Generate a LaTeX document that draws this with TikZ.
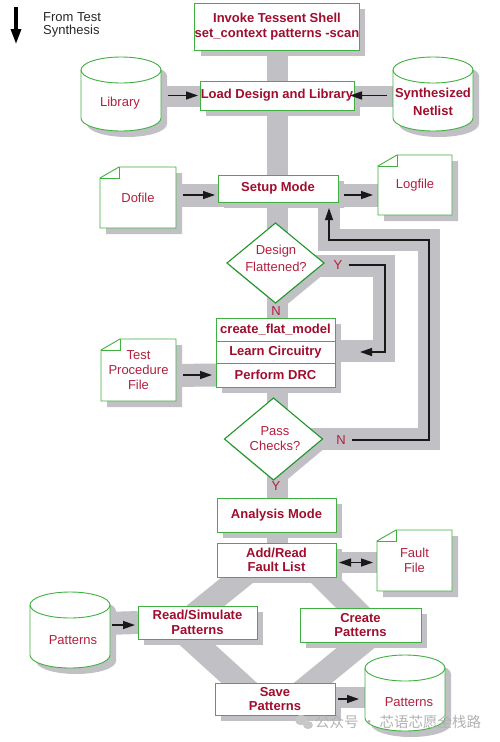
\documentclass[tikz,border=0pt]{standalone}
\usepackage{fontspec}
\setmainfont{Liberation Sans}
\newfontfamily\cjkfont{Noto Sans CJK SC}
\usetikzlibrary{arrows.meta,calc,shadows}
\definecolor{bandgray}{RGB}{192,192,197}
\definecolor{boxgreen}{RGB}{64,176,64}
\definecolor{diagreen}{RGB}{30,150,40}
\definecolor{boldred}{RGB}{160,14,46}
\definecolor{textred}{RGB}{178,32,62}
\definecolor{arrowblack}{RGB}{25,25,25}
\pgfdeclarelayer{bands}
\pgfdeclarelayer{shapes}
\pgfsetlayers{bands,shapes,main}
\tikzset{
  band/.style={draw=bandgray, line width=#1},
  band/.default=22pt,
  procbox/.style={draw=boxgreen, line width=0.9pt, fill=white, inner sep=0pt, outer sep=0pt,
    align=center, text=boldred, font=\fontsize{13}{14.5}\selectfont\bfseries,
    drop shadow={shadow xshift=6pt, shadow yshift=-6pt, fill=bandgray, opacity=1}},
  holder/.style={draw=none, inner sep=0pt, outer sep=0pt, align=center, text=textred,
    font=\fontsize{13}{15}\selectfont},
  lab/.style={inner sep=1pt, text=textred, font=\fontsize{13}{15}\selectfont},
  arr/.style={draw=arrowblack, line width=1.3pt, -{Triangle[length=12pt,width=8pt]}},
  bothtip/.style={draw=arrowblack, line width=1.3pt, {Triangle[length=12pt,width=8pt]}-{Triangle[length=12pt,width=8pt]}},
}
\newcommand\docframe[1]{%
  \begin{pgfonlayer}{bands}
    \fill[bandgray] ($(#1.north west)+(6,17)$) -- ($(#1.north west)+(25,6)$) -- ($(#1.north east)+(6,6)$) -- ($(#1.south east)+(6,6)$) -- ($(#1.south west)+(6,6)$) -- cycle;
  \end{pgfonlayer}
  \begin{pgfonlayer}{shapes}
    \filldraw[fill=white, draw=boxgreen, line width=0.9pt] ($(#1.north west)+(0,11)$) -- ($(#1.north west)+(19,0)$) -- (#1.north east) -- (#1.south east) -- (#1.south west) -- cycle;
    \draw[boxgreen, line width=0.9pt] ($(#1.north west)+(0,11)$) -- ($(#1.north west)+(19,11)$) -- ($(#1.north west)+(19,0)$);
  \end{pgfonlayer}}
\newcommand\cylframe[1]{%
  \begin{pgfonlayer}{bands}
    \fill[bandgray] ($(#1.north west)+(6,19)$) -- ($(#1.south west)+(6,-7)$) arc[start angle=180, end angle=360, x radius=40pt, y radius=13pt] -- ($(#1.north east)+(6,19)$) arc[start angle=0, end angle=180, x radius=40pt, y radius=13pt] -- cycle;
  \end{pgfonlayer}
  \begin{pgfonlayer}{shapes}
    \filldraw[fill=white, draw=boxgreen, line width=0.9pt] ($(#1.north west)+(0,13)$) -- ($(#1.south west)+(0,-13)$) arc[start angle=180, end angle=360, x radius=40pt, y radius=13pt] -- ($(#1.north east)+(0,13)$) arc[start angle=0, end angle=180, x radius=40pt, y radius=13pt] -- cycle;
    \draw[boxgreen, line width=0.9pt] ($(#1.north west)+(0,13)$) arc[start angle=180, end angle=360, x radius=40pt, y radius=13pt];
  \end{pgfonlayer}}
\newcommand\diaframe[1]{%
  \begin{pgfonlayer}{bands}
    \fill[bandgray] ($(#1.north)+(6,6)$) -- ($(#1.east)+(6,6)$) -- ($(#1.south)+(6,6)$) -- ($(#1.west)+(6,6)$) -- cycle;
  \end{pgfonlayer}
  \begin{pgfonlayer}{shapes}
    \filldraw[fill=white, draw=diagreen, line width=1.1pt] (#1.north) -- (#1.east) -- (#1.south) -- (#1.west) -- cycle;
  \end{pgfonlayer}}
\begin{document}
\begin{tikzpicture}[x=1pt, y=-1pt]
\useasboundingbox (0,0) rectangle (499,742);

% from test synthesis
\coordinate (fromtop) at (16,7);
\coordinate (frombot) at (16,44);
\draw[draw=black, line width=3.2pt, -{Triangle[length=15pt,width=10pt]}] (fromtop) -- (frombot);
\node[anchor=west, align=left, inner sep=0pt, text=black!85, font=\fontsize{13}{13}\selectfont] (fromtxt) at (43,24.5) {From Test\\Synthesis};

% process boxes
\node[procbox, minimum width=158pt, minimum height=47pt] (invoke) at (277,26.5) {Invoke Tessent Shell\\set\_context patterns -scan};
\node[procbox, minimum width=154pt, minimum height=29pt] (load) at (277,95.5) {Load Design and Library};
\node[procbox, minimum width=120pt, minimum height=27pt] (setup) at (278,188.5) {Setup Mode};
\node[procbox, minimum width=119pt, minimum height=23pt] (cfm) at (275.5,329.5) {create\_flat\_model};
\node[procbox, minimum width=119pt, minimum height=22pt] (learn) at (275.5,352) {Learn Circuitry};
\node[procbox, minimum width=119pt, minimum height=24pt] (drc) at (275.5,375) {Perform DRC};
\node[procbox, minimum width=119pt, minimum height=34pt] (analysis) at (276.5,515) {Analysis Mode};
\node[procbox, minimum width=119pt, minimum height=34pt] (addread) at (276.5,560) {Add/Read\\Fault List};
\node[procbox, minimum width=119pt, minimum height=33pt] (readsim) at (197.5,622.5) {Read/Simulate\\Patterns};
\node[procbox, minimum width=121pt, minimum height=34pt] (create) at (360.5,625) {Create\\Patterns};
\node[procbox, minimum width=120pt, minimum height=32pt] (save) at (275,699) {Save\\Patterns};

% cylinders
\node[holder, minimum width=80pt, minimum height=74pt] (lib) at (121,94) {};
\node[holder, minimum width=80pt, minimum height=74pt] (netlist) at (433,94) {};
\node[holder, minimum width=80pt, minimum height=76pt] (patl) at (70,630) {};
\node[holder, minimum width=80pt, minimum height=76pt] (patr) at (405,693) {};
\cylframe{lib}
\cylframe{netlist}
\cylframe{patl}
\cylframe{patr}
\node[lab] (libtxt) at (120,103) {Library};
\node[lab, text=boldred, align=center, font=\fontsize{13}{18}\selectfont\bfseries] (nettxt) at (433,102) {Synthesized\\Netlist};
\node[lab] (patltxt) at (73,640) {Patterns};
\node[lab] (patrtxt) at (409,702) {Patterns};

% documents
\node[holder, minimum width=76pt, minimum height=61pt] (dofile) at (138,197.5) {Dofile};
\node[holder, minimum width=74pt, minimum height=60pt] (logfile) at (415,185) {Logfile};
\node[holder, minimum width=75pt, minimum height=62pt] (tpf) at (138.5,370) {Test\\Procedure\\File};
\node[holder, minimum width=75pt, minimum height=61pt] (fault) at (414.5,560.5) {Fault\\File};
\docframe{dofile}
\docframe{logfile}
\docframe{tpf}
\docframe{fault}

% decisions
\node[holder, minimum width=97pt, minimum height=80pt] (flat) at (275.5,263) {};
\node[holder, minimum width=98pt, minimum height=82pt] (pass) at (273.5,439) {};
\diaframe{flat}
\diaframe{pass}
\node[lab, align=center, font=\fontsize{13}{17}\selectfont] (flattxt) at (276,258.5) {Design\\Flattened?};
\node[lab, align=center, font=\fontsize{13}{15}\selectfont] (passtxt) at (275,438.5) {Pass\\Checks?};
\node[lab] (yflat) at (338,265) {Y};
\node[lab] (nflat) at (276,311) {N};
\node[lab] (npass) at (341,440) {N};
\node[lab] (ypass) at (276,486) {Y};

% gray bands
\coordinate (yband) at (383.5,351);
\coordinate (nband) at (428.5,239.5);
\begin{pgfonlayer}{bands}
  \draw[band=21pt] ($(invoke.south)+(0.5,0)$) -- ($(addread.north)+(1,0)$);
  \draw[band=21pt] ($(lib.east)+(-5,2.5)$) -- ($(netlist.west)+(5,2.5)$);
  \draw[band=23pt] ($(dofile.east|-setup.west)+(-5,6.5)$) -- ($(logfile.west|-setup.east)+(5,6.5)$);
  \draw[band=23pt] ($(tpf.east|-drc.west)+(-5,0.5)$) -- (drc.west);
  \draw[band=21pt] ($(addread.east)+(-5,2.5)$) -- ($(fault.west|-addread.east)+(5,2.5)$);
  \draw[band=23pt] ($(patl.east|-readsim.west)+(-5,1)$) -- (readsim.west);
  \draw[band=21pt] ($(save.east)+(-5,-2)$) -- ($(patr.west|-save.east)+(5,-2)$);
  \draw[band=22pt] ($(flat.center)+(30,3)$) -| (yband) -- (learn.center |- yband);
  \draw[band=22pt] ($(pass.center)+(30,0)$) -| (nband) -| ($(setup.center)+(51,0)$);
  % diamond of bands between the fault list, the two pattern boxes and save
  \draw[band=24pt] ($(addread.center)+(-20.5,5)$) -- ($(readsim.center)+(-9.5,-2.5)$);
  \draw[band=24pt] ($(addread.center)+(33.5,5)$) -- ($(create.center)+(4.5,-5)$);
  \draw[band=24pt] ($(readsim.center)+(-16.5,7.5)$) -- ($(save.center)+(-17,1)$);
  \draw[band=24pt] ($(create.center)+(14.5,7)$) -- ($(save.center)+(17,1)$);
\end{pgfonlayer}

% connectors
\draw[arr, shorten <=7pt, shorten >=2pt] (lib.east |- load.west) -- (load.west);
\draw[arr, shorten <=6pt, shorten >=-4pt] (netlist.west |- load.east) -- (load.east);
\draw[arr] ($(dofile.east|-setup.west)+(7,6.5)$) -- ($(setup.west)+(-3,6.5)$);
\draw[arr] ($(setup.east)+(6,6.5)$) -- ($(logfile.west|-setup.east)+(-5,6.5)$);
\draw[arr, shorten <=7pt, shorten >=4pt] (tpf.east |- drc.west) -- (drc.west);
\coordinate (yloop) at (385,352);
\draw[arr, shorten <=5pt, shorten >=25pt] (yflat.east) -| (yloop) -- (learn.east);
\coordinate (nloop) at (429,240);
\coordinate (ntip) at (329,208);
\draw[arr, shorten <=5pt] (npass.east) -| (nloop) -| (ntip);
\draw[bothtip] ($(addread.east)+(3,2.5)$) -- ($(fault.west|-addread.east)+(-4,2.5)$);
\draw[arr] ($(patl.east|-readsim.west)+(2,2.5)$) -- ($(readsim.west)+(-3,2.5)$);
\draw[arr] ($(save.east)+(3,0)$) -- ($(patr.west|-save.east)+(-6,0)$);

% watermark
\fill[black!22] (301,720) ellipse[x radius=6pt, y radius=5pt];
\fill[black!22] (308,725) ellipse[x radius=5pt, y radius=4pt];
\node[anchor=west, inner sep=0pt, text=black!30, font=\cjkfont\fontsize{14.5}{15}\selectfont] (wm) at (315,722) {公众号 · 芯语芯愿全栈路};
\end{tikzpicture}
\end{document}
